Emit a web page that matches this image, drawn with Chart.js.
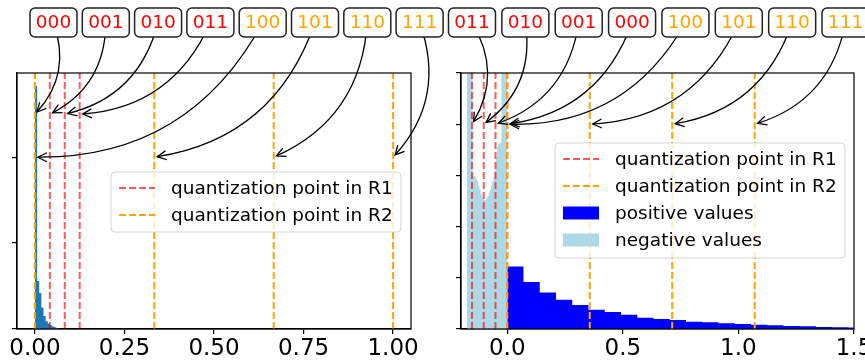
<!DOCTYPE html>
<html>
<head>
<meta charset="utf-8">
<script src="https://cdn.jsdelivr.net/npm/chart.js@4.4.0/dist/chart.umd.min.js"></script>
<style>
  body { margin: 0; background: #fff; }
  #wrap { position: relative; width: 865px; height: 362px; }
  #wrap canvas { position: absolute; left: 0; top: 0; }
</style>
</head>
<body>
<div id="wrap">
  <canvas id="leftChart" width="865" height="362"></canvas>
  <canvas id="rightChart" width="865" height="362"></canvas>
</div>
<script>
// left panel: values in [0, 1]
const leftCodes = ["000", "001", "010", "011", "100", "101", "110", "111"];
const leftR1 = [0, 0.0417, 0.0833, 0.125];
const leftR2 = [0, 0.3333, 0.6667, 1.0];
const leftBinWidth = 0.006;
const leftCounts = [2.83, 0.56, 0.42, 0.25, 0.15, 0.09, 0.06, 0.045, 0.03, 0.02, 0.012];
const leftXTicks = [0, 0.25, 0.5, 0.75, 1.0];
const leftYTicks = [0, 1, 2];
const leftArrowY = [2.5, 2.0]; // R1 arrows, R2 arrows

// right panel: signed values
const rightCodes = ["011", "010", "001", "000", "100", "101", "110", "111"];
const rightR1 = [-0.1525, -0.1017, -0.0508, 0];
const rightR2 = [0, 0.357, 0.7135, 1.0705];
const posBinWidth = 0.0703;
const posCounts = [1.22, 0.92, 0.715, 0.57, 0.47, 0.377, 0.33, 0.28, 0.22, 0.195, 0.175,
  0.14, 0.13, 0.11, 0.098, 0.085, 0.072, 0.059, 0.052, 0.04, 0.033, 0.03];
const negBinStart = -0.175;
const negBinWidth = 0.005;
const negCounts = [6, 6, 6, 6, 6, 3.0, 3.0, 2.97, 2.93, 2.88, 2.8, 2.72, 2.64, 2.57, 2.53,
  2.51, 2.52, 2.56, 2.6, 2.66, 2.72, 2.8, 2.88, 2.96, 3.1, 3.35, 3.55, 3.6, 3.62, 3.65,
  6, 6, 6, 6, 6];
const rightXTicks = [0, 0.5, 1.0, 1.5];
const rightYTicks = [0, 1, 2, 3, 4, 5];
const rightArrowY = [4, 4];

const legendLeft = ["quantization point in R1", "quantization point in R2"];
const legendRight = ["quantization point in R1", "quantization point in R2", "positive values", "negative values"];

const RED = "rgba(255,0,0,0.65)";
const ORANGE = "#ffa500";
const FONT = "DejaVu Sans";

function histPoints(start, width, counts) {
  const pts = counts.map((c, i) => ({ x: start + i * width, y: c }));
  pts.push({ x: start + counts.length * width, y: 0 });
  return pts;
}

function histDataset(label, pts, color) {
  return {
    label, data: pts, stepped: true, fill: "origin",
    backgroundColor: color, borderWidth: 0, pointRadius: 0, order: 3
  };
}

function vlines(values, color, order) {
  return values.map(v => ({
    data: [{ x: v, y: 0 }, { x: v, y: 100 }],
    borderColor: color, borderWidth: 2, borderDash: [7, 3],
    pointRadius: 0, fill: false, order
  }));
}

function drawArrow(ctx, sx, sy, tx, ty) {
  const mx = (sx + tx) / 2, my = (sy + ty) / 2;
  const cx = mx + 0.3 * (ty - sy), cy = my - 0.3 * (tx - sx);
  let dx = tx - cx, dy = ty - cy;
  const d = Math.hypot(dx, dy);
  dx /= d; dy /= d;
  const ex = tx - dx * 3, ey = ty - dy * 3;
  ctx.beginPath();
  ctx.moveTo(sx, sy);
  ctx.quadraticCurveTo(cx, cy, ex, ey);
  ctx.stroke();
  const hl = 9, hw = 4.5;
  ctx.beginPath();
  ctx.moveTo(ex - dx * hl - dy * hw, ey - dy * hl + dx * hw);
  ctx.lineTo(ex, ey);
  ctx.lineTo(ex - dx * hl + dy * hw, ey - dy * hl - dx * hw);
  ctx.stroke();
}

function drawLegend(ctx, bx, by, bw, bh, items) {
  ctx.save();
  ctx.beginPath();
  ctx.roundRect(bx, by, bw, bh, 4);
  ctx.fillStyle = "rgba(255,255,255,0.8)";
  ctx.fill();
  ctx.strokeStyle = "rgba(204,204,204,0.8)";
  ctx.lineWidth = 1;
  ctx.stroke();
  ctx.font = "18.5px '" + FONT + "'";
  ctx.textBaseline = "middle";
  ctx.textAlign = "left";
  items.forEach((it, i) => {
    const y = by + 16 + i * 27;
    if (it.kind === "dash") {
      ctx.strokeStyle = it.color;
      ctx.lineWidth = 2;
      ctx.setLineDash([7, 3]);
      ctx.beginPath();
      ctx.moveTo(bx + 8, y);
      ctx.lineTo(bx + 44, y);
      ctx.stroke();
      ctx.setLineDash([]);
    } else {
      ctx.fillStyle = it.color;
      ctx.fillRect(bx + 8, y - 6.5, 36, 13);
    }
    ctx.fillStyle = "#000";
    ctx.fillText(it.label, bx + 60, y + 1);
  });
  ctx.restore();
}

// code boxes + curved arrows + legend, drawn after the chart
function annotations(cfg) {
  return {
    id: "annot",
    afterDatasetsDraw(chart) {
      const { ctx, chartArea: a } = chart;
      ctx.save();
      ctx.strokeStyle = "#000";
      ctx.lineWidth = 1.2;
      ctx.strokeRect(a.left, a.top, a.right - a.left, a.bottom - a.top);
      ctx.restore();
    },
    afterDraw(chart) {
      const { ctx, scales } = chart;
      drawLegend(ctx, cfg.legendBox[0], cfg.legendBox[1], cfg.legendBox[2], cfg.legendBox[3], cfg.legendItems);
      ctx.save();
      ctx.strokeStyle = "#000";
      ctx.lineWidth = 1.3;
      cfg.codes.forEach((code, i) => {
        const cx = cfg.boxStart + i * cfg.boxStep;
        const val = i < 4 ? cfg.r1[i] : cfg.r2[i - 4];
        const yv = i < 4 ? cfg.arrowY[0] : cfg.arrowY[1];
        drawArrow(ctx, cx, 22.5, scales.x.getPixelForValue(val), scales.y.getPixelForValue(yv));
      });
      ctx.font = "18.5px '" + FONT + "'";
      ctx.textAlign = "center";
      ctx.textBaseline = "middle";
      cfg.codes.forEach((code, i) => {
        const cx = cfg.boxStart + i * cfg.boxStep;
        ctx.beginPath();
        ctx.roundRect(cx - 23.5, 8, 47, 29, 5);
        ctx.fillStyle = "#fff";
        ctx.fill();
        ctx.strokeStyle = "#222";
        ctx.lineWidth = 1.5;
        ctx.stroke();
        ctx.fillStyle = i < 4 ? "#ff0000" : ORANGE;
        ctx.fillText(code, cx, 23.5);
      });
      ctx.restore();
    }
  };
}

function panelOptions(xMin, xMax, yMax, xTicks, yTicks, decimals, pad, yWidth) {
  const gridOpts = { drawOnChartArea: false, drawTicks: true, tickLength: 5, color: "#000", lineWidth: 1.2 };
  return {
    responsive: false,
    animation: false,
    layout: { padding: pad },
    plugins: { legend: { display: false }, tooltip: { enabled: false } },
    scales: {
      x: {
        type: "linear", min: xMin, max: xMax,
        afterBuildTicks: axis => { axis.ticks = xTicks.map(v => ({ value: v })); },
        afterFit: s => { s.height = 33; s.paddingLeft = 0; s.paddingRight = 0; },
        ticks: {
          callback: v => Number(v).toFixed(decimals),
          color: "#000", font: { family: FONT, size: 23 }, padding: 1,
          maxRotation: 0, autoSkip: false
        },
        grid: gridOpts,
        border: { display: true, color: "#000", width: 1.2 }
      },
      y: {
        type: "linear", min: 0, max: yMax,
        afterBuildTicks: axis => { axis.ticks = yTicks.map(v => ({ value: v })); },
        afterFit: s => { s.width = yWidth; s.paddingTop = 0; s.paddingBottom = 0; },
        ticks: { display: false },
        grid: gridOpts,
        border: { display: true, color: "#000", width: 1.2 }
      }
    }
  };
}

new Chart(document.getElementById("leftChart"), {
  type: "line",
  data: {
    datasets: [
      ...vlines(leftR2, ORANGE, 1),
      ...vlines(leftR1, RED, 2),
      histDataset("values", histPoints(0, leftBinWidth, leftCounts), "#1f77b4")
    ]
  },
  options: panelOptions(-0.05, 1.05, 2.98, leftXTicks, leftYTicks, 2,
    { left: 0, top: 73, right: 454, bottom: 0 }, 17),
  plugins: [annotations({
    codes: leftCodes, r1: leftR1, r2: leftR2, arrowY: leftArrowY,
    boxStart: 53.5, boxStep: 52.3,
    legendBox: [111, 172, 290, 60],
    legendItems: [
      { label: legendLeft[0], kind: "dash", color: RED },
      { label: legendLeft[1], kind: "dash", color: ORANGE }
    ]
  })]
});

new Chart(document.getElementById("rightChart"), {
  type: "line",
  data: {
    datasets: [
      ...vlines(rightR2, ORANGE, 1),
      ...vlines(rightR1, RED, 2),
      histDataset(legendRight[2], histPoints(0, posBinWidth, posCounts), "#0000ff"),
      histDataset(legendRight[3], histPoints(negBinStart, negBinWidth, negCounts), "#add8e6")
    ]
  },
  options: panelOptions(-0.2, 1.5, 5, rightXTicks, rightYTicks, 1,
    { left: 456, top: 73, right: 11, bottom: 0 }, 5),
  plugins: [annotations({
    codes: rightCodes, r1: rightR1, r2: rightR2, arrowY: rightArrowY,
    boxStart: 472, boxStep: 53.36,
    legendBox: [555, 143, 290, 115],
    legendItems: [
      { label: legendRight[0], kind: "dash", color: RED },
      { label: legendRight[1], kind: "dash", color: ORANGE },
      { label: legendRight[2], kind: "patch", color: "#0000ff" },
      { label: legendRight[3], kind: "patch", color: "#add8e6" }
    ]
  })]
});
</script>
</body>
</html>
